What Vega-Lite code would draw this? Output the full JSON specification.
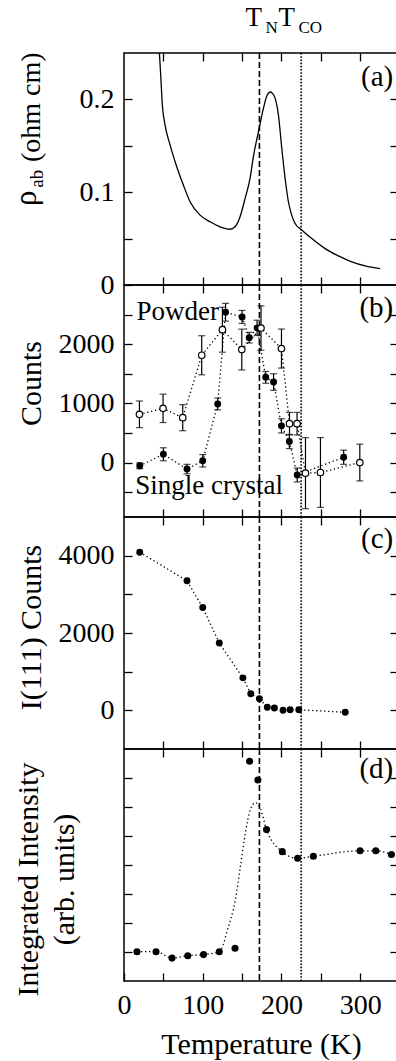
{
  "$schema": "https://vega.github.io/schema/vega-lite/v6.json",
  "padding": {"left": 10, "top": 3, "right": 0, "bottom": 0},
  "background": "white",
  "spacing": 0,
  "bounds": "flush",
  "config": {
    "view": {"stroke": "black", "strokeWidth": 1.5},
    "font": "Liberation Serif, Times New Roman, DejaVu Serif, serif",
    "axis": {
      "labelFont": "Liberation Serif, Times New Roman, DejaVu Serif, serif", "titleFont": "Liberation Serif, Times New Roman, DejaVu Serif, serif",
      "labelFontSize": 28, "titleFontSize": 30, "titleFontWeight": "normal",
      "labelColor": "black", "titleColor": "black", "tickColor": "black",
      "tickSize": -8, "tickWidth": 1.3, "domain": false, "grid": false,
      "labelPadding": 18, "labelOverlap": false, "labelFlush": false
    },
    "text": {"font": "Liberation Serif, Times New Roman, DejaVu Serif, serif"}
  },
  "datasets": {
    "rho": [
      {"T": 44.9, "v": 0.251}, {"T": 46.6, "v": 0.2266}, {"T": 48.7, "v": 0.194}, {"T": 52.1, "v": 0.1726},
      {"T": 58.5, "v": 0.151}, {"T": 67, "v": 0.1275}, {"T": 75.4, "v": 0.1077}, {"T": 83.9, "v": 0.0897},
      {"T": 96.6, "v": 0.0753}, {"T": 109.3, "v": 0.0681}, {"T": 122, "v": 0.0627}, {"T": 134.7, "v": 0.0601},
      {"T": 141, "v": 0.0627}, {"T": 147.4, "v": 0.0735}, {"T": 153.8, "v": 0.0933}, {"T": 160.1, "v": 0.115},
      {"T": 164.3, "v": 0.138}, {"T": 170.7, "v": 0.165}, {"T": 177, "v": 0.19}, {"T": 181.5, "v": 0.204},
      {"T": 186, "v": 0.208}, {"T": 189, "v": 0.206}, {"T": 191.9, "v": 0.2014}, {"T": 196.1, "v": 0.1834},
      {"T": 200.4, "v": 0.1474}, {"T": 204.6, "v": 0.115}, {"T": 208.8, "v": 0.0897}, {"T": 213, "v": 0.0753},
      {"T": 217.3, "v": 0.0663}, {"T": 225, "v": 0.0598}, {"T": 238.5, "v": 0.05}, {"T": 255.4, "v": 0.0392},
      {"T": 272.3, "v": 0.0313}, {"T": 289.3, "v": 0.0249}, {"T": 306.2, "v": 0.0205}, {"T": 325.3, "v": 0.0176}
    ],
    "sc": [
      {"T": 20, "v": -55, "e": 50}, {"T": 50, "v": 140, "e": 110}, {"T": 80, "v": -110, "e": 80},
      {"T": 100, "v": 30, "e": 105}, {"T": 119, "v": 990, "e": 100}, {"T": 129, "v": 2540, "e": 150},
      {"T": 150, "v": 2460, "e": 110}, {"T": 159, "v": 2110, "e": 90}, {"T": 169, "v": 2275, "e": 130},
      {"T": 180, "v": 1440, "e": 100}, {"T": 190, "v": 1360, "e": 140}, {"T": 200, "v": 620, "e": 120},
      {"T": 210, "v": 355, "e": 120}, {"T": 220, "v": -210, "e": 118}, {"T": 279, "v": 90, "e": 120}
    ],
    "pw": [
      {"T": 19.6, "v": 815, "e": 225}, {"T": 49.6, "v": 916, "e": 240}, {"T": 74.6, "v": 758, "e": 220},
      {"T": 98.7, "v": 1813, "e": 330}, {"T": 125, "v": 2245, "e": 380}, {"T": 149.6, "v": 1909, "e": 345},
      {"T": 174, "v": 2273, "e": 375}, {"T": 200, "v": 1926, "e": 330}, {"T": 210.2, "v": 657, "e": 190},
      {"T": 219.8, "v": 657, "e": 190}, {"T": 230.5, "v": -179, "e": 600}, {"T": 249.5, "v": -168, "e": 590},
      {"T": 299.5, "v": 0, "e": 310}
    ],
    "c": [
      {"T": 20, "v": 4090}, {"T": 80, "v": 3350}, {"T": 100, "v": 2660}, {"T": 121, "v": 1740},
      {"T": 151, "v": 840}, {"T": 161, "v": 430}, {"T": 172, "v": 300}, {"T": 182, "v": 80},
      {"T": 191, "v": 60}, {"T": 202, "v": 0}, {"T": 211, "v": 15}, {"T": 222, "v": 15}, {"T": 281, "v": -50}
    ],
    "d": [
      {"T": 16.5, "v": 1.01}, {"T": 40.7, "v": 1.01}, {"T": 61, "v": 0.79}, {"T": 81, "v": 0.87},
      {"T": 101, "v": 0.91}, {"T": 121, "v": 1.01}, {"T": 141, "v": 1.13}, {"T": 159.5, "v": 7.58},
      {"T": 170, "v": 6.93}, {"T": 181, "v": 5.22}, {"T": 201, "v": 4.46}, {"T": 220.5, "v": 4.23},
      {"T": 240.5, "v": 4.3}, {"T": 299.8, "v": 4.49}, {"T": 319.8, "v": 4.49}, {"T": 339.7, "v": 4.36}
    ],
    "dfit": [
      {"T": 16.5, "v": 1.01}, {"T": 40.7, "v": 1.01}, {"T": 61, "v": 0.79}, {"T": 81, "v": 0.87},
      {"T": 101, "v": 0.91}, {"T": 121, "v": 1.01}, {"T": 126, "v": 1.25}, {"T": 130.5, "v": 1.68},
      {"T": 141.6, "v": 2.83}, {"T": 148, "v": 3.98}, {"T": 154.3, "v": 5.13}, {"T": 160.7, "v": 5.93},
      {"T": 167, "v": 6.15}, {"T": 173.4, "v": 5.93}, {"T": 181, "v": 5.22}, {"T": 201, "v": 4.46},
      {"T": 220.5, "v": 4.23}, {"T": 240.5, "v": 4.3}, {"T": 299.8, "v": 4.49}, {"T": 319.8, "v": 4.49},
      {"T": 339.7, "v": 4.36}
    ],
    "tn": [{"T": 172}],
    "tco": [{"T": 225}]
  },
  "resolve": {"scale": {"x": "independent", "y": "independent"}, "axis": {"x": "independent", "y": "independent"}},
  "vconcat": [
    {
      "width": 274, "height": 232,
      "resolve": {"axis": {"x": "independent", "y": "independent"}},
      "layer": [
        {
          "data": {"name": "rho"},
          "mark": {"type": "line", "color": "black", "strokeWidth": 1.3, "interpolate": "monotone", "clip": true},
          "encoding": {
            "x": {"field": "T", "type": "quantitative", "scale": {"domain": [0, 348], "nice": false, "zero": false},
                  "axis": {"orient": "bottom", "values": [50, 100, 150, 200, 250, 300], "labels": false, "title": null}},
            "y": {"field": "v", "type": "quantitative", "scale": {"domain": [0, 0.25], "nice": false, "zero": false},
                  "axis": {"orient": "left", "values": [0, 0.05, 0.1, 0.15, 0.2], "title": null,
                           "labelExpr": "datum.value < 0.01 ? '0' : (abs(datum.value - 0.1) < 0.01 ? '0.1' : (abs(datum.value - 0.2) < 0.01 ? '0.2' : ''))"}}
          }
        },
        {
          "data": {"name": "tn"},
          "mark": {"type": "rule", "color": "black", "strokeWidth": 1.6, "strokeDash": [6, 3]},
          "encoding": {"x": {"field": "T", "type": "quantitative", "scale": {"domain": [0, 348], "nice": false, "zero": false}, "axis": null}}
        },
        {
          "data": {"name": "tco"},
          "mark": {"type": "rule", "color": "black", "strokeWidth": 1.6, "strokeDash": [1.6, 1.6]},
          "encoding": {"x": {"field": "T", "type": "quantitative", "scale": {"domain": [0, 348], "nice": false, "zero": false}, "axis": null}}
        },
        {
          "data": {"values": [{"T": 342, "v": 0.2144, "s": "(a)"}]},
          "mark": {"type": "text", "align": "right", "baseline": "alphabetic", "fontSize": 29, "color": "black"},
          "encoding": {
            "x": {"field": "T", "type": "quantitative", "scale": {"domain": [0, 348], "nice": false, "zero": false},
                  "axis": {"orient": "top", "values": [50, 100, 150, 200, 250, 300], "labels": false, "title": null}},
            "y": {"field": "v", "type": "quantitative", "scale": {"domain": [0, 0.25], "nice": false, "zero": false},
                  "axis": {"orient": "right", "values": [0.05, 0.1, 0.15, 0.2], "labels": false, "title": null}},
            "text": {"field": "s"}
          }
        },
        {
          "data": {"values": [{"T": 154.3, "v": 0.279, "s": "T"}, {"T": 196.2, "v": 0.279, "s": "T"}]},
          "mark": {"type": "text", "align": "left", "baseline": "alphabetic", "fontSize": 27, "color": "black"},
          "encoding": {
            "x": {"field": "T", "type": "quantitative", "scale": {"domain": [0, 348], "nice": false, "zero": false}, "axis": null},
            "y": {"field": "v", "type": "quantitative", "scale": {"domain": [0, 0.25], "nice": false, "zero": false}, "axis": null},
            "text": {"field": "s"}
          }
        },
        {
          "data": {"values": [{"T": 179.7, "v": 0.2716, "s": "N"}, {"T": 221.6, "v": 0.2716, "s": "CO"}]},
          "mark": {"type": "text", "align": "left", "baseline": "alphabetic", "fontSize": 17, "color": "black"},
          "encoding": {
            "x": {"field": "T", "type": "quantitative", "scale": {"domain": [0, 348], "nice": false, "zero": false}, "axis": null},
            "y": {"field": "v", "type": "quantitative", "scale": {"domain": [0, 0.25], "nice": false, "zero": false}, "axis": null},
            "text": {"field": "s"}
          }
        },
        {
          "data": {"values": [{"T": -107, "v": 0.1915, "s": "(ohm cm)"}]},
          "mark": {"type": "text", "align": "center", "baseline": "alphabetic", "angle": 270, "fontSize": 28, "color": "black"},
          "encoding": {
            "x": {"field": "T", "type": "quantitative", "scale": {"domain": [0, 348], "nice": false, "zero": false}, "axis": null},
            "y": {"field": "v", "type": "quantitative", "scale": {"domain": [0, 0.25], "nice": false, "zero": false}, "axis": null},
            "text": {"field": "s"}
          }
        },
        {
          "data": {"values": [{"T": -103, "v": 0.1144, "s": "ab"}]},
          "mark": {"type": "text", "align": "center", "baseline": "alphabetic", "angle": 270, "fontSize": 19, "color": "black"},
          "encoding": {
            "x": {"field": "T", "type": "quantitative", "scale": {"domain": [0, 348], "nice": false, "zero": false}, "axis": null},
            "y": {"field": "v", "type": "quantitative", "scale": {"domain": [0, 0.25], "nice": false, "zero": false}, "axis": null},
            "text": {"field": "s"}
          }
        },
        {
          "data": {"values": [{"T": -112, "v": 0.0935, "s": "ρ"}]},
          "mark": {"type": "text", "align": "center", "baseline": "alphabetic", "angle": 270, "fontSize": 31, "color": "black"},
          "encoding": {
            "x": {"field": "T", "type": "quantitative", "scale": {"domain": [0, 348], "nice": false, "zero": false}, "axis": null},
            "y": {"field": "v", "type": "quantitative", "scale": {"domain": [0, 0.25], "nice": false, "zero": false}, "axis": null},
            "text": {"field": "s"}
          }
        }
      ]
    },
    {
      "width": 274, "height": 232,
      "resolve": {"axis": {"x": "independent", "y": "independent"}},
      "layer": [
        {
          "data": {"name": "sc"},
          "mark": {"type": "line", "color": "black", "strokeWidth": 1.3, "strokeDash": [1.3, 2.7]},
          "encoding": {
            "x": {"field": "T", "type": "quantitative", "scale": {"domain": [0, 348], "nice": false, "zero": false},
                  "axis": {"orient": "bottom", "values": [50, 100, 150, 200, 250, 300], "labels": false, "title": null}},
            "y": {"field": "v", "type": "quantitative", "scale": {"domain": [-920, 3000], "nice": false, "zero": false},
                  "axis": {"orient": "left", "values": [-500, 0, 500, 1000, 1500, 2000, 2500], "title": "Counts", "titlePadding": 12, "titleY": 98,
                           "labelExpr": "datum.value % 1000 == 0 ? format(datum.value, 'd') : ''"}}
          }
        },
        {
          "data": {"name": "pw"},
          "mark": {"type": "line", "color": "black", "strokeWidth": 1.3, "strokeDash": [1.3, 2.7]},
          "encoding": {
            "x": {"field": "T", "type": "quantitative", "scale": {"domain": [0, 348], "nice": false, "zero": false}, "axis": null},
            "y": {"field": "v", "type": "quantitative", "scale": {"domain": [-920, 3000], "nice": false, "zero": false}, "axis": null}
          }
        },
        {
          "data": {"name": "tn"},
          "mark": {"type": "rule", "color": "black", "strokeWidth": 1.6, "strokeDash": [6, 3]},
          "encoding": {"x": {"field": "T", "type": "quantitative", "scale": {"domain": [0, 348], "nice": false, "zero": false}, "axis": null}}
        },
        {
          "data": {"name": "tco"},
          "mark": {"type": "rule", "color": "black", "strokeWidth": 1.6, "strokeDash": [1.6, 1.6]},
          "encoding": {"x": {"field": "T", "type": "quantitative", "scale": {"domain": [0, 348], "nice": false, "zero": false}, "axis": null}}
        },
        {
          "data": {"name": "pw"},
          "mark": {"type": "errorbar", "color": "black", "thickness": 1.2, "ticks": {"size": 7, "thickness": 1.2, "color": "black"}},
          "encoding": {
            "x": {"field": "T", "type": "quantitative", "scale": {"domain": [0, 348], "nice": false, "zero": false}, "axis": null},
            "y": {"field": "v", "type": "quantitative", "scale": {"domain": [-920, 3000], "nice": false, "zero": false}, "axis": null},
            "yError": {"field": "e"}
          }
        },
        {
          "data": {"name": "sc"},
          "mark": {"type": "errorbar", "color": "black", "thickness": 1.2, "ticks": {"size": 7, "thickness": 1.2, "color": "black"}},
          "encoding": {
            "x": {"field": "T", "type": "quantitative", "scale": {"domain": [0, 348], "nice": false, "zero": false}, "axis": null},
            "y": {"field": "v", "type": "quantitative", "scale": {"domain": [-920, 3000], "nice": false, "zero": false}, "axis": null},
            "yError": {"field": "e"}
          }
        },
        {
          "data": {"name": "sc"},
          "mark": {"type": "point", "shape": "circle", "filled": true, "color": "black", "size": 48, "opacity": 1},
          "encoding": {
            "x": {"field": "T", "type": "quantitative", "scale": {"domain": [0, 348], "nice": false, "zero": false}, "axis": null},
            "y": {"field": "v", "type": "quantitative", "scale": {"domain": [-920, 3000], "nice": false, "zero": false}, "axis": null}
          }
        },
        {
          "data": {"name": "pw"},
          "mark": {"type": "point", "shape": "circle", "filled": true, "fill": "white", "stroke": "black", "strokeWidth": 1.2, "size": 42, "opacity": 1},
          "encoding": {
            "x": {"field": "T", "type": "quantitative", "scale": {"domain": [0, 348], "nice": false, "zero": false}, "axis": null},
            "y": {"field": "v", "type": "quantitative", "scale": {"domain": [-920, 3000], "nice": false, "zero": false}, "axis": null}
          }
        },
        {
          "data": {"values": [{"T": 15.9, "v": 2405, "s": "Powder"}, {"T": 14.2, "v": -523, "s": "Single crystal"}]},
          "mark": {"type": "text", "align": "left", "baseline": "alphabetic", "fontSize": 27, "color": "black"},
          "encoding": {
            "x": {"field": "T", "type": "quantitative", "scale": {"domain": [0, 348], "nice": false, "zero": false}, "axis": null},
            "y": {"field": "v", "type": "quantitative", "scale": {"domain": [-920, 3000], "nice": false, "zero": false}, "axis": null},
            "text": {"field": "s"}
          }
        },
        {
          "data": {"values": [{"T": 342, "v": 2459, "s": "(b)"}]},
          "mark": {"type": "text", "align": "right", "baseline": "alphabetic", "fontSize": 29, "color": "black"},
          "encoding": {
            "x": {"field": "T", "type": "quantitative", "scale": {"domain": [0, 348], "nice": false, "zero": false},
                  "axis": {"orient": "top", "values": [50, 100, 150, 200, 250, 300], "labels": false, "title": null}},
            "y": {"field": "v", "type": "quantitative", "scale": {"domain": [-920, 3000], "nice": false, "zero": false},
                  "axis": {"orient": "right", "values": [-500, 0, 500, 1000, 1500, 2000, 2500], "labels": false, "title": null}},
            "text": {"field": "s"}
          }
        }
      ]
    },
    {
      "width": 274, "height": 232,
      "resolve": {"axis": {"x": "independent", "y": "independent"}},
      "layer": [
        {
          "data": {"name": "c"},
          "mark": {"type": "line", "color": "black", "strokeWidth": 1.3, "strokeDash": [1.3, 2.7]},
          "encoding": {
            "x": {"field": "T", "type": "quantitative", "scale": {"domain": [0, 348], "nice": false, "zero": false},
                  "axis": {"orient": "bottom", "values": [50, 100, 150, 200, 250, 300], "labels": false, "title": null}},
            "y": {"field": "v", "type": "quantitative", "scale": {"domain": [-1000, 5000], "nice": false, "zero": false},
                  "axis": {"orient": "left", "values": [0, 1000, 2000, 3000, 4000], "title": "I(111) Counts", "titlePadding": 12, "titleY": 110,
                           "labelExpr": "datum.value % 2000 == 0 ? format(datum.value, 'd') : ''"}}
          }
        },
        {
          "data": {"name": "tn"},
          "mark": {"type": "rule", "color": "black", "strokeWidth": 1.6, "strokeDash": [6, 3]},
          "encoding": {"x": {"field": "T", "type": "quantitative", "scale": {"domain": [0, 348], "nice": false, "zero": false}, "axis": null}}
        },
        {
          "data": {"name": "tco"},
          "mark": {"type": "rule", "color": "black", "strokeWidth": 1.6, "strokeDash": [1.6, 1.6]},
          "encoding": {"x": {"field": "T", "type": "quantitative", "scale": {"domain": [0, 348], "nice": false, "zero": false}, "axis": null}}
        },
        {
          "data": {"name": "c"},
          "mark": {"type": "point", "shape": "circle", "filled": true, "color": "black", "size": 48, "opacity": 1},
          "encoding": {
            "x": {"field": "T", "type": "quantitative", "scale": {"domain": [0, 348], "nice": false, "zero": false}, "axis": null},
            "y": {"field": "v", "type": "quantitative", "scale": {"domain": [-1000, 5000], "nice": false, "zero": false}, "axis": null}
          }
        },
        {
          "data": {"values": [{"T": 342, "v": 4198, "s": "(c)"}]},
          "mark": {"type": "text", "align": "right", "baseline": "alphabetic", "fontSize": 29, "color": "black"},
          "encoding": {
            "x": {"field": "T", "type": "quantitative", "scale": {"domain": [0, 348], "nice": false, "zero": false},
                  "axis": {"orient": "top", "values": [50, 100, 150, 200, 250, 300], "labels": false, "title": null}},
            "y": {"field": "v", "type": "quantitative", "scale": {"domain": [-1000, 5000], "nice": false, "zero": false},
                  "axis": {"orient": "right", "values": [0, 1000, 2000, 3000, 4000], "labels": false, "title": null}},
            "text": {"field": "s"}
          }
        }
      ]
    },
    {
      "width": 274, "height": 232,
      "resolve": {"axis": {"x": "independent", "y": "independent"}},
      "layer": [
        {
          "data": {"name": "dfit"},
          "mark": {"type": "line", "color": "black", "strokeWidth": 1.3, "strokeDash": [1.3, 2.7], "interpolate": "monotone"},
          "encoding": {
            "x": {"field": "T", "type": "quantitative", "scale": {"domain": [0, 348], "nice": false, "zero": false},
                  "axis": {"orient": "bottom", "values": [0, 50, 100, 150, 200, 250, 300], "title": "Temperature (K)", "titlePadding": 10,
                           "labelExpr": "datum.value % 100 == 0 ? format(datum.value, 'd') : ''"}},
            "y": {"field": "v", "type": "quantitative", "scale": {"domain": [0, 8], "nice": false, "zero": false},
                  "axis": {"orient": "left", "values": [1, 2, 3, 4, 5, 6, 7], "labels": false, "title": ["Integrated Intensity", "(arb. units)"],
                           "titleLineHeight": 36, "titlePadding": 44, "titleY": 130}}
          }
        },
        {
          "data": {"name": "tn"},
          "mark": {"type": "rule", "color": "black", "strokeWidth": 1.6, "strokeDash": [6, 3]},
          "encoding": {"x": {"field": "T", "type": "quantitative", "scale": {"domain": [0, 348], "nice": false, "zero": false}, "axis": null}}
        },
        {
          "data": {"name": "tco"},
          "mark": {"type": "rule", "color": "black", "strokeWidth": 1.6, "strokeDash": [1.6, 1.6]},
          "encoding": {"x": {"field": "T", "type": "quantitative", "scale": {"domain": [0, 348], "nice": false, "zero": false}, "axis": null}}
        },
        {
          "data": {"name": "d"},
          "mark": {"type": "point", "shape": "circle", "filled": true, "color": "black", "size": 50, "opacity": 1},
          "encoding": {
            "x": {"field": "T", "type": "quantitative", "scale": {"domain": [0, 348], "nice": false, "zero": false}, "axis": null},
            "y": {"field": "v", "type": "quantitative", "scale": {"domain": [0, 8], "nice": false, "zero": false}, "axis": null}
          }
        },
        {
          "data": {"values": [{"T": 342, "v": 7.0, "s": "(d)"}]},
          "mark": {"type": "text", "align": "right", "baseline": "alphabetic", "fontSize": 29, "color": "black"},
          "encoding": {
            "x": {"field": "T", "type": "quantitative", "scale": {"domain": [0, 348], "nice": false, "zero": false},
                  "axis": {"orient": "top", "values": [50, 100, 150, 200, 250, 300], "labels": false, "title": null}},
            "y": {"field": "v", "type": "quantitative", "scale": {"domain": [0, 8], "nice": false, "zero": false},
                  "axis": {"orient": "right", "values": [1, 2, 3, 4, 5, 6, 7], "labels": false, "title": null}},
            "text": {"field": "s"}
          }
        }
      ]
    }
  ]
}
